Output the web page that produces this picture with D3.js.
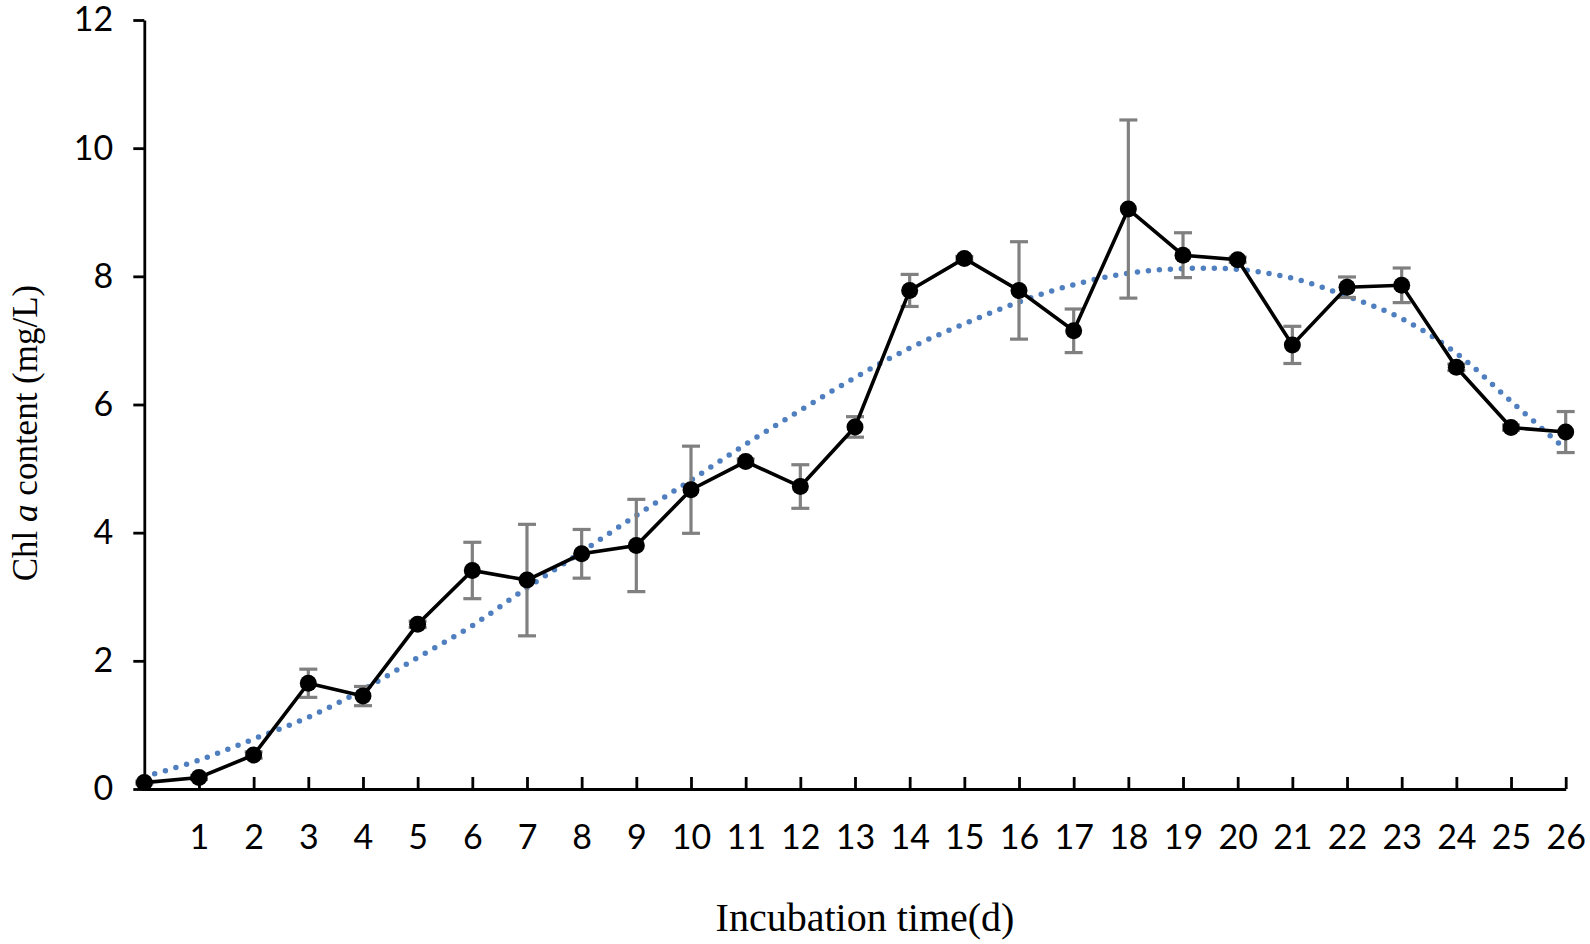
<!DOCTYPE html>
<html lang="en">
<head>
    <meta charset="UTF-8">
    <title>Chl a content</title>
    <script src="https://cdn.jsdelivr.net/npm/d3@7"></script>
    <style>
        body { margin: 0; background: #fff; }
        path.chl { stroke: #000; stroke-width: 3.6px; fill: none; }
        path.trend { stroke: #4f7fbf; stroke-width: 5.5px; fill: none; stroke-linecap: round; stroke-dasharray: 0 11; }
        line.err { stroke: #808080; stroke-width: 3.2px; }
        g.axis path, g.axis line { stroke: #000; stroke-width: 2.8px; }
        g.axis text { font-family: Lato, "Open Sans", sans-serif; font-size: 34px; fill: #000; }
        text.title { font-family: "Liberation Serif", "Times New Roman", serif; fill: #000; }
    </style>
</head>
<body>
<svg width="1590" height="944"></svg>
<script>
    // incubation days and measured Chl a (mg/L)
    let days = [0, 1, 2, 3, 4, 5, 6, 7, 8, 9, 10, 11, 12, 13, 14, 15, 16, 17, 18, 19, 20, 21, 22, 23, 24, 25, 26]
    let chl = [0.10, 0.18, 0.53, 1.65, 1.45, 2.57, 3.41, 3.26, 3.67, 3.80, 4.67, 5.11, 4.72, 5.65, 7.78, 8.28,
               7.78, 7.15, 9.05, 8.33, 8.26, 6.93, 7.83, 7.86, 6.58, 5.64, 5.57]
    let chlErr = [0.02, 0.03, 0.05, 0.22, 0.15, 0.05, 0.44, 0.87, 0.38, 0.72, 0.68, 0.04, 0.34, 0.16, 0.25, 0.03,
                  0.76, 0.34, 1.39, 0.35, 0.04, 0.29, 0.16, 0.27, 0.05, 0.04, 0.32]
    // polynomial trend line at each day
    let trend = [0.19, 0.45, 0.78, 1.12, 1.55, 2.05, 2.55, 3.14, 3.70, 4.27, 4.82, 5.38, 5.91, 6.42, 6.88, 7.26,
                 7.60, 7.87, 8.05, 8.12, 8.11, 7.97, 7.69, 7.34, 6.80, 6.05, 5.30]
    let xTicks = d3.range(1, 27)
    let yTicks = [0, 2, 4, 6, 8, 10, 12]

    let svg = d3.select('svg')

    let xScale = d3.scaleLinear().domain([0, 26]).range([144.3, 1565.7])
    let yScale = d3.scaleLinear().domain([0, 12]).range([789, 20])

    let data = days.map(function (d, i) {
        return {day: d, v: chl[i], err: chlErr[i], t: trend[i]}
    })

    // axes
    let xAxis = svg.append('g').attr('class', 'axis')
        .attr('transform', 'translate(0,' + yScale(0) + ')')
        .call(d3.axisBottom(xScale).tickValues(xTicks).tickSizeInner(-12).tickSizeOuter(0).tickPadding(36))
    xAxis.selectAll('.tick text').attr('dy', '0.71em')

    let yAxis = svg.append('g').attr('class', 'axis')
        .attr('transform', 'translate(' + xScale(0) + ',0)')
        .call(d3.axisLeft(yScale).tickValues(yTicks).tickSizeInner(11).tickSizeOuter(0).tickPadding(20))

    // trend line
    let trendLine = d3.line()
        .x(function (d) { return xScale(d.day) })
        .y(function (d) { return yScale(d.t) })
        .curve(d3.curveCatmullRom)
    svg.append('path').datum(data).attr('class', 'trend').attr('d', trendLine)

    // error bars
    let eb = svg.append('g').selectAll('g').data(data).join('g')
    eb.append('line').attr('class', 'err')
        .attr('x1', function (d) { return xScale(d.day) })
        .attr('x2', function (d) { return xScale(d.day) })
        .attr('y1', function (d) { return yScale(d.v + d.err) })
        .attr('y2', function (d) { return yScale(d.v - d.err) })
    eb.append('line').attr('class', 'err')
        .attr('x1', function (d) { return xScale(d.day) - 9 })
        .attr('x2', function (d) { return xScale(d.day) + 9 })
        .attr('y1', function (d) { return yScale(d.v + d.err) })
        .attr('y2', function (d) { return yScale(d.v + d.err) })
    eb.append('line').attr('class', 'err')
        .attr('x1', function (d) { return xScale(d.day) - 9 })
        .attr('x2', function (d) { return xScale(d.day) + 9 })
        .attr('y1', function (d) { return yScale(d.v - d.err) })
        .attr('y2', function (d) { return yScale(d.v - d.err) })

    // measured line and markers
    let chlLine = d3.line()
        .x(function (d) { return xScale(d.day) })
        .y(function (d) { return yScale(d.v) })
    svg.append('path').datum(data).attr('class', 'chl').attr('d', chlLine)

    svg.append('g').selectAll('circle').data(data).join('circle')
        .attr('cx', function (d) { return xScale(d.day) })
        .attr('cy', function (d) { return yScale(d.v) })
        .attr('r', 8.5)
        .attr('fill', '#000')

    // axis titles
    svg.append('text').attr('class', 'title')
        .attr('x', 865).attr('y', 931)
        .attr('text-anchor', 'middle')
        .style('font-size', '40px')
        .text('Incubation time(d)')

    let yTitle = svg.append('text').attr('class', 'title')
        .attr('transform', 'translate(37,433) rotate(-90)')
        .attr('text-anchor', 'middle')
        .style('font-size', '35px')
    yTitle.append('tspan').text('Chl ')
    yTitle.append('tspan').style('font-style', 'italic').text('a')
    yTitle.append('tspan').text(' content (mg/L)')
</script>
</body>
</html>
